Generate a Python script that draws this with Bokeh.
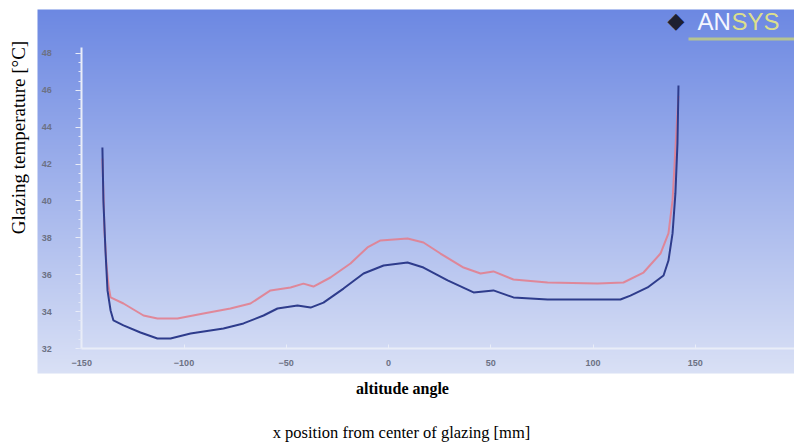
import numpy as np
from bokeh.plotting import figure
from bokeh.models import Range1d, LinearAxis, FixedTicker, Label, BoxAnnotation
from bokeh.embed import file_html
from bokeh.resources import INLINE

# Glazing temperature along the glass, two cases
x_blue = [-139.9, -139.4, -138.4, -137.4, -135.9, -134.5, -129.6, -121.3, -113.0, -106.6,
          -96.8, -80.7, -70.9, -61.1, -54.3, -44.5, -38.1, -31.8, -22.0, -12.2, -2.4,
          9.3, 17.1, 28.9, 41.6, 51.3, 61.1, 77.8, 113.4, 118.3, 126.7, 134.5, 136.9,
          138.9, 140.3, 141.3, 141.8]
t_blue = [42.9, 40.0, 37.3, 35.15, 34.06, 33.52, 33.25, 32.87, 32.54, 32.54,
          32.81, 33.08, 33.36, 33.79, 34.17, 34.33, 34.22, 34.49, 35.25, 36.07, 36.5,
          36.66, 36.39, 35.69, 35.04, 35.15, 34.77, 34.66, 34.66, 34.87, 35.31, 35.96, 36.77,
          38.24, 40.41, 43.12, 46.26]

x_pink = [-139.9, -138.9, -137.9, -136.9, -135.9, -129.6, -119.8, -113.0, -103.2, -90.5,
          -77.3, -67.5, -57.7, -47.9, -41.6, -36.7, -28.4, -18.6, -10.3, -3.9, 9.3,
          17.1, 25.4, 36.7, 45.0, 51.3, 61.1, 77.8, 102.2, 114.9, 124.7, 133.0, 136.9,
          138.9, 140.8, 141.8]
t_pink = [42.3, 38.4, 36.5, 35.4, 34.77, 34.44, 33.79, 33.63, 33.63, 33.9,
          34.17, 34.44, 35.15, 35.31, 35.52, 35.36, 35.85, 36.61, 37.48, 37.86, 37.97,
          37.75, 37.15, 36.39, 36.07, 36.18, 35.74, 35.58, 35.52, 35.58, 36.12, 37.15, 38.24,
          40.03, 43.82, 45.7]

x_ticks = [-150, -100, -50, 0, 50, 100, 150]
y_ticks = [32, 34, 36, 38, 40, 42, 44, 46, 48]

# page scale: 2.045 px per mm, 18.44 px per degree, origin (0 mm, 32 degC) at (388, 348)
W, H = 794, 443
PX_MM, PX_DEG, OX, OY = 2.045, 18.44, 388.0, 348.0


def sx(px):
    return (px - OX) / PX_MM


def sy(py):
    return 32.0 + (OY - py) / PX_DEG


p = figure(width=W, height=H, output_backend="svg", toolbar_location=None,
           x_range=Range1d(sx(0), sx(W)), y_range=Range1d(sy(H), sy(0)),
           x_axis_location=None, y_axis_location=None,
           min_border=0)
p.outline_line_color = None
p.background_fill_color = "#ffffff"
p.border_fill_color = "#ffffff"
p.xgrid.visible = False
p.ygrid.visible = False

# chart panel with a vertical colour gradient
P_L, P_R, P_T, P_B = sx(37), sx(W), sy(9), sy(373)
n = 364
top_rgb = np.array([108, 136, 226])
bot_rgb = np.array([217, 224, 245])
img = np.empty((n, 1), dtype=np.uint32)
view = img.view(dtype=np.uint8).reshape((n, 1, 4))
for i in range(n):
    f = i / (n - 1)  # row 0 is the bottom
    c = bot_rgb + (top_rgb - bot_rgb) * f
    view[i, 0, :3] = np.round(c).astype(np.uint8)
    view[i, 0, 3] = 255
p.image_rgba(image=[img], x=P_L, y=P_B, dw=P_R - P_L, dh=P_T - P_B)

# curves
p.line(x_pink, t_pink, line_color="#e2808f", line_width=2, line_alpha=0.9)
p.line(x_blue, t_blue, line_color="#2e3c8c", line_width=2)

tick_col = "#6c7184"
xax = LinearAxis(fixed_location=32, bounds=(-150, sx(W)),
                 ticker=FixedTicker(ticks=x_ticks))
xax.axis_line_color = "#e9edf8"
xax.axis_line_width = 2
xax.major_tick_line_color = "#e9edf8"
xax.major_tick_in = 4
xax.major_tick_out = 0
xax.minor_tick_line_color = None
xax.major_label_text_color = tick_col
xax.major_label_text_font = "Liberation Sans"
xax.major_label_text_font_size = "9px"
xax.major_label_text_font_style = "bold"
xax.major_label_standoff = 11
p.add_layout(xax, "below")

yax = LinearAxis(fixed_location=-150, bounds=(32, 48.3),
                 ticker=FixedTicker(ticks=y_ticks, minor_ticks=list(np.arange(32, 48.01, 0.5))))
yax.axis_line_color = "#e9edf8"
yax.axis_line_width = 2
yax.major_tick_line_color = "#e9edf8"
yax.major_tick_in = 0
yax.major_tick_out = 6
yax.minor_tick_line_color = "#e2e7f6"
yax.minor_tick_in = 0
yax.minor_tick_out = 3
yax.major_label_text_color = tick_col
yax.major_label_text_font = "Liberation Sans"
yax.major_label_text_font_size = "9px"
yax.major_label_text_font_style = "bold"
yax.major_label_standoff = 24
p.add_layout(yax, "left")

# panel logo
p.add_layout(Label(x=sx(667), y=sy(20), text="\u25c6", text_color="#1e2030",
                   text_font="DejaVu Sans", text_font_size="22px",
                   text_baseline="middle", text_align="left"))
p.add_layout(Label(x=sx(697), y=sy(21), text="AN", text_color="#f4f6ff",
                   text_font="Liberation Sans", text_font_size="24px",
                   text_baseline="middle", text_align="left"))
p.add_layout(Label(x=sx(731), y=sy(21), text="SYS", text_color="#dcdf8c",
                   text_font="Liberation Sans", text_font_size="24px",
                   text_baseline="middle", text_align="left"))
p.add_layout(BoxAnnotation(left=sx(688), right=sx(W), bottom=sy(40), top=sy(37),
                           fill_color="#c6cf7c", fill_alpha=0.8, line_color=None))

# outer titles
p.add_layout(Label(x=sx(18), y=sy(137), text="Glazing temperature [\u00b0C]", angle=np.pi / 2,
                   text_font="Liberation Serif", text_font_size="19px", text_color="#000000",
                   text_align="center", text_baseline="middle"))
p.add_layout(Label(x=sx(402), y=sy(388), text="altitude angle",
                   text_font="Liberation Serif", text_font_size="16px", text_font_style="bold",
                   text_color="#000000", text_align="center", text_baseline="middle"))
p.add_layout(Label(x=sx(401), y=sy(432), text="x position from center of glazing [mm]",
                   text_font="Liberation Serif", text_font_size="16.5px", text_color="#000000",
                   text_align="center", text_baseline="middle"))

open("out.html", "w").write(file_html(p, INLINE))
